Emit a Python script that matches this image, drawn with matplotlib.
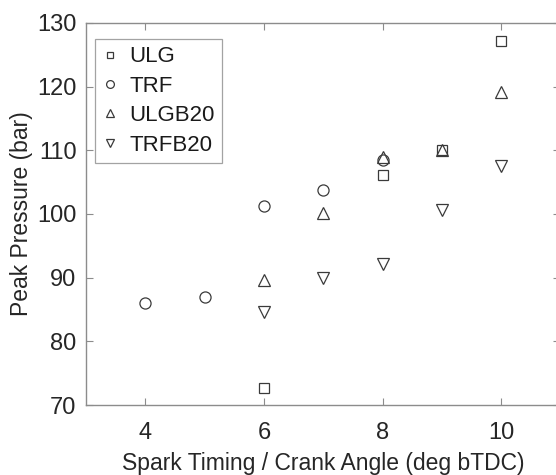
import numpy as np
import matplotlib.pyplot as plt

plt.rcParams['font.family'] = ['Liberation Sans', 'DejaVu Sans']

# Peak pressure (bar) against spark timing (deg bTDC)
ulg_x = [6, 8, 9, 10]
ulg_p = [72.7, 106.1, 110.0, 127.2]

trf_x = [4, 5, 6, 7, 8]
trf_p = [86.1, 86.9, 101.3, 103.8, 108.4]

ulgb20_x = [6, 7, 8, 9, 10]
ulgb20_p = [89.7, 100.1, 108.9, 110.1, 119.1]

trfb20_x = [6, 7, 8, 9, 10]
trfb20_p = [84.6, 89.9, 92.1, 100.7, 107.5]

xticks = [4, 6, 8, 10]
yticks = [70, 80, 90, 100, 110, 120, 130]

fig = plt.figure(figsize=(5.56, 4.75), dpi=100)
ax = fig.add_axes([0.155, 0.147, 0.853, 0.805])

edge = '#3a3a3a'
ax.plot(ulg_x, ulg_p, 's', ms=7, mfc='none', mec=edge, mew=0.9, label='ULG')
ax.plot(trf_x, trf_p, 'o', ms=8, mfc='none', mec=edge, mew=0.9, label='TRF')
ax.plot(ulgb20_x, ulgb20_p, '^', ms=9, mfc='none', mec=edge, mew=0.9, label='ULGB20')
ax.plot(trfb20_x, trfb20_p, 'v', ms=9, mfc='none', mec=edge, mew=0.9, label='TRFB20')

ax.set_xlim(3, 11)
ax.set_ylim(70, 130)
ax.set_xticks(xticks)
ax.set_yticks(yticks)

for s in ax.spines.values():
    s.set_color('#8c8c8c')
    s.set_linewidth(1.0)
# right edge of the box falls just outside the picture
ax.spines['right'].set_visible(False)
ax.tick_params(direction='in', top=True, right=True, length=5, color='#8c8c8c',
               labelsize=17, labelcolor='#262626', pad=7)
ax.tick_params(axis='x', pad=12)

ax.set_xlabel('Spark Timing / Crank Angle (deg bTDC)', fontsize=16.5, color='#262626', labelpad=6)
ax.set_ylabel('Peak Pressure (bar)', fontsize=16.5, color='#262626', labelpad=3)

leg = ax.legend(loc='upper left', bbox_to_anchor=(-0.004, 0.986), fontsize=16,
                frameon=True, fancybox=False, edgecolor='#8c8c8c', markerscale=0.7,
                handlelength=0.7, handletextpad=0.5, borderpad=0.32, labelspacing=0.38)
leg.get_frame().set_linewidth(0.9)
for t in leg.get_texts():
    t.set_color('#1a1a1a')

plt.savefig('out.png', dpi=100)
